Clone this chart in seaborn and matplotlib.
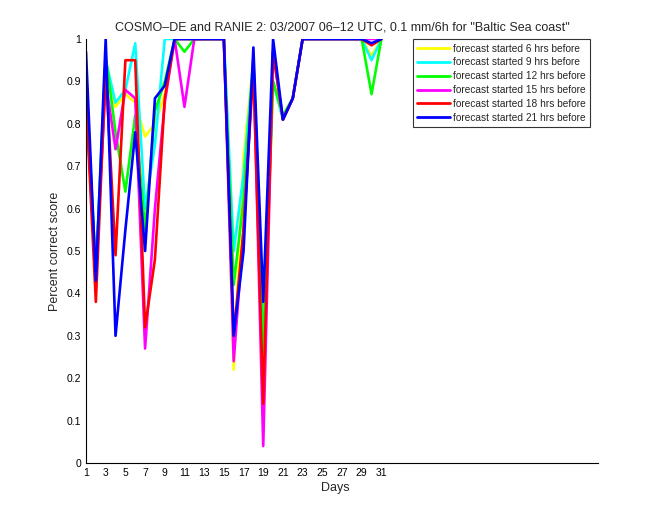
import numpy as np
import pandas as pd
import matplotlib
matplotlib.use("Agg")
import matplotlib.pyplot as plt
import seaborn as sns

days = list(range(1, 32))
series_names = ["forecast started 6 hrs before", "forecast started 9 hrs before",
                "forecast started 12 hrs before", "forecast started 15 hrs before",
                "forecast started 18 hrs before", "forecast started 21 hrs before"]
yellow = [0.87, 0.45, 0.93, 0.84, 0.87, 0.85, 0.77, 0.80, 0.87, 1, 1, 1, 1, 1, 1,
          0.22, 0.72, 0.95, 0.20, 0.90, 0.81, 0.86, 1, 1, 1, 1, 1, 1, 1, 0.96, 1]
cyan = [0.90, 0.45, 0.95, 0.85, 0.88, 0.99, 0.60, 0.75, 1.0, 1, 1, 1, 1, 1, 1,
        0.50, 0.68, 0.95, 0.33, 0.90, 0.81, 0.86, 1, 1, 1, 1, 1, 1, 1, 0.95, 1]
green = [0.90, 0.45, 0.96, 0.78, 0.64, 0.82, 0.55, 0.83, 0.90, 1, 0.97, 1, 1, 1, 1,
         0.42, 0.62, 0.95, 0.26, 0.90, 0.82, 0.86, 1, 1, 1, 1, 1, 1, 1, 0.87, 1]
magenta = [0.85, 0.45, 0.90, 0.74, 0.88, 0.86, 0.27, 0.60, 0.85, 1, 0.84, 1, 1, 1, 1,
           0.24, 0.55, 0.95, 0.04, 0.97, 0.81, 0.86, 1, 1, 1, 1, 1, 1, 1, 1.0, 1]
red = [0.86, 0.38, 0.93, 0.49, 0.95, 0.95, 0.32, 0.48, 0.86, 1, 1, 1, 1, 1, 1,
       0.30, 0.55, 0.93, 0.14, 0.97, 0.81, 0.86, 1, 1, 1, 1, 1, 1, 1, 0.985, 1]
blue = [0.97, 0.43, 1.0, 0.30, 0.55, 0.78, 0.50, 0.86, 0.89, 1, 1, 1, 1, 1, 1,
        0.30, 0.50, 0.98, 0.38, 1.0, 0.81, 0.86, 1, 1, 1, 1, 1, 1, 1, 0.99, 1]
colors = ["#ffff00", "#00ffff", "#00ff00", "#ff00ff", "#ff0000", "#0000ff"]
xticks = list(range(1, 32, 2))
yticks = [0, 0.1, 0.2, 0.3, 0.4, 0.5, 0.6, 0.7, 0.8, 0.9, 1]

sns.set_style("white")
plt.rcParams['font.family'] = ['Liberation Sans', 'DejaVu Sans']

fig = plt.figure(figsize=(6.6, 5.2), dpi=100)
ax = fig.add_axes([86/660, 57/520, (598-86)/660, (463-39)/520])

all_vals = [yellow, cyan, green, magenta, red, blue]
for name, vals, col in zip(series_names, all_vals, colors):
    df = pd.DataFrame({"day": days, "score": vals})
    sns.lineplot(data=df, x="day", y="score", ax=ax, color=col, lw=1.9,
                 label=name, sort=False, estimator=None)

ax.set_xlim(1, 53)
ax.set_ylim(0, 1)
ax.set_xticks(xticks)
ax.set_xticklabels([str(t) for t in xticks])
ax.set_yticks(yticks)
ax.set_yticklabels(["0", "0.1", "0.2", "0.3", "0.4", "0.5", "0.6", "0.7", "0.8", "0.9", "1"])
ax.tick_params(direction="in", length=4, labelsize=7.5, width=0.8, colors="black")
for s in ["top", "right"]:
    ax.spines[s].set_visible(False)
for s in ["left", "bottom"]:
    ax.spines[s].set_color("black")
    ax.spines[s].set_linewidth(0.8)

ax.set_xlabel("Days", fontsize=9, labelpad=2)
ax.xaxis.set_label_coords((335-86)/(598-86), -0.045)
ax.set_ylabel("Percent correct score", fontsize=9)
ax.set_title('COSMO\u2013DE and RANIE 2: 03/2007 06\u201312 UTC, 0.1 mm/6h for "Baltic Sea coast"',
             fontsize=9, pad=6)

leg = ax.legend(loc="upper right", bbox_to_anchor=((590-86)/512, 1.0), fontsize=7.3,
                frameon=True, fancybox=False, handlelength=3.2, handletextpad=0.3,
                borderaxespad=0.0, labelspacing=0.38, borderpad=0.45)
leg.get_frame().set_edgecolor("black")
leg.get_frame().set_linewidth(0.8)
for line in leg.get_lines():
    line.set_linewidth(2)

fig.savefig("out.png", dpi=100)
